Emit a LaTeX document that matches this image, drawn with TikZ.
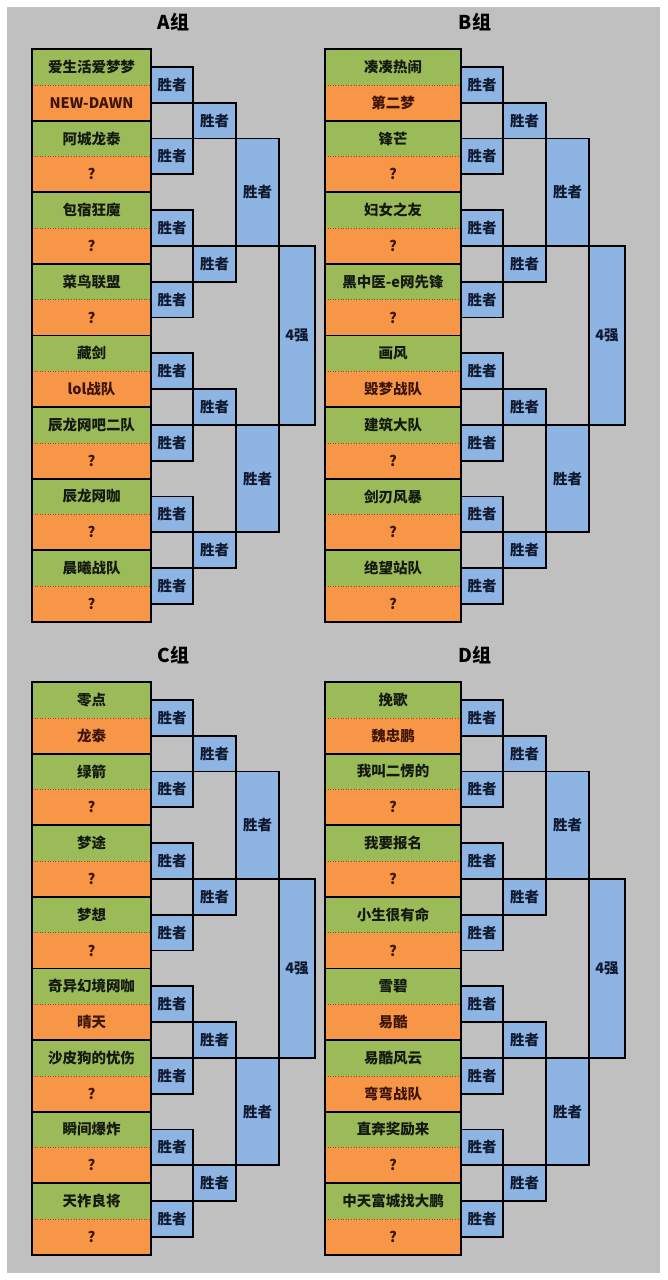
\documentclass[tikz,border=0pt]{standalone}
\usepackage{fontspec}
\setmainfont{Noto Sans CJK SC}
\definecolor{bg}{HTML}{C0C0C0}
\definecolor{grn}{HTML}{9BBB59}
\definecolor{org}{HTML}{F79646}
\definecolor{blu}{HTML}{8DB4E2}
\definecolor{txtg}{HTML}{151A10}
\definecolor{txto}{HTML}{3E1406}
\definecolor{txtb}{HTML}{101A30}
\tikzset{
  cell/.style={inner sep=0pt, outer sep=0pt, minimum height=35.8pt, font=\fontsize{14.5}{15}\selectfont\bfseries},
  pairb/.style={draw=black, line width=1.8pt},
  sepl/.style={draw=black!45!org, line width=0.6pt, dotted},
  win/.style={draw=black, fill=blu, line width=1.8pt, inner sep=0pt, outer sep=0pt, text=txtb, font=\fontsize{14.5}{15}\selectfont\bfseries},
  titlet/.style={inner sep=0pt, font=\fontsize{19}{20}\selectfont\bfseries, text=black}
}
\newcommand{\rowh}{35.8}
\newcommand{\grp}[6]{%
  \pgfmathsetmacro{\tw}{#3-#2}
  \node[titlet] (#1title) at ({(#2+#3+164)/2}, #4-27) {#5};
  \foreach \nm [count=\i from 0] in {#6} {
    \pgfmathsetmacro{\yc}{#4+(\i+0.5)*\rowh}
    \pgfmathtruncatemacro{\odd}{mod(\i,2)}
    \ifnum\odd=0 \def\cc{grn}\def\tc{txtg}\else\def\cc{org}\def\tc{txto}\fi
    \node[cell, fill=\cc, text=\tc, minimum width=\tw pt] (#1t\i) at ({(#2+#3)/2}, \yc) {\nm};
  }
  \foreach \k in {0,...,7} {
    \pgfmathtruncatemacro{\a}{2*\k}
    \pgfmathtruncatemacro{\b}{2*\k+1}
    \draw[sepl] (#1t\a.south west) -- (#1t\a.south east);
    \draw[pairb] (#1t\a.north west) rectangle (#1t\b.south east);
  }
  \foreach \k in {0,...,7} {
    \node[win, minimum width=42pt, minimum height=\rowh pt] (#1ra\k) at (#3+21, {#4+(2*\k+1)*\rowh}) {胜者};
  }
  \foreach \k in {0,...,3} {
    \node[win, minimum width=43pt, minimum height=\rowh pt] (#1rb\k) at (#3+63.5, {#4+(4*\k+2)*\rowh}) {胜者};
  }
  \foreach \k in {0,1} {
    \node[win, minimum width=43pt, minimum height=3*\rowh pt] (#1rc\k) at (#3+106.5, {#4+(8*\k+4)*\rowh}) {胜者};
  }
  \node[win, minimum width=36pt, minimum height=5*\rowh pt] (#1rd) at (#3+146, {#4+8*\rowh}) {4强};
}
\begin{document}
\begin{tikzpicture}[x=1pt,y=-1pt]
\useasboundingbox (0,0) rectangle (667,1280);
\fill[white] (0,0) rectangle (667,1280);
\fill[bg] (7,7) rectangle (660,1273);
\grp{A}{32}{151}{49}{A组}{爱生活爱梦梦,NEW-DAWN,阿城龙泰,?,包宿狂魔,?,菜鸟联盟,?,藏剑,lol战队,辰龙网吧二队,?,辰龙网咖,?,晨曦战队,?}
\grp{B}{325}{461}{49}{B组}{凑凑热闹,第二梦,锋芒,?,妇女之友,?,黑中医-e网先锋,?,画风,毁梦战队,建筑大队,?,剑刃风暴,?,绝望站队,?}
\grp{C}{32}{151}{682}{C组}{零点,龙泰,绿箭,?,梦途,?,梦想,?,奇异幻境网咖,晴天,沙皮狗的忧伤,?,瞬间爆炸,?,天祚良将,?}
\grp{D}{325}{461}{682}{D组}{挽歌,魏忠鹏,我叫二愣的,?,我要报名,?,小生很有命,?,雪碧,易酷,易酷风云,弯弯战队,直奔奖励来,?,中天富城找大鹏,?}
\end{tikzpicture}
\end{document}
